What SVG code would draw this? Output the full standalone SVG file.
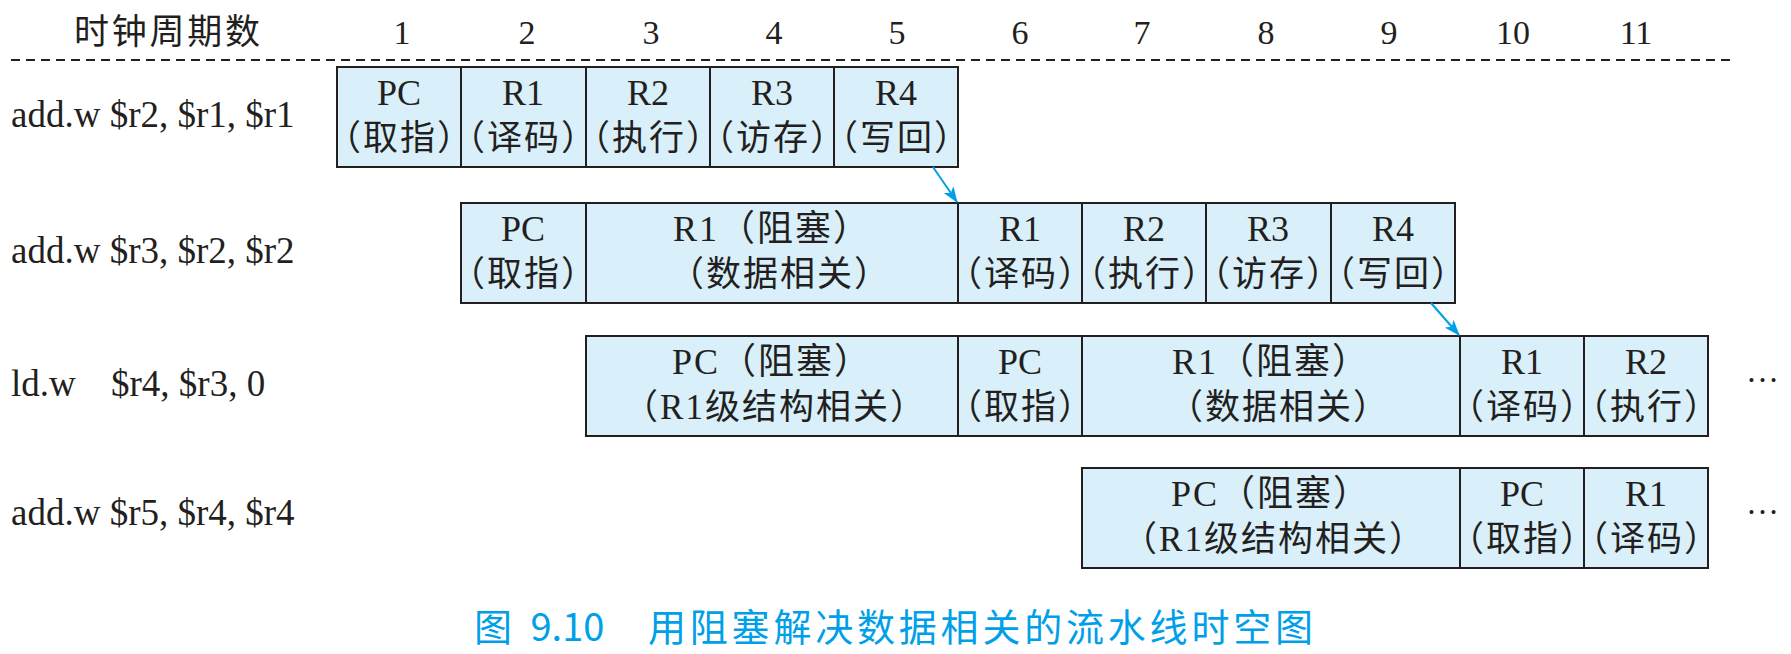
<svg xmlns="http://www.w3.org/2000/svg" width="1791" height="654" viewBox="0 0 1791 654">
<style>
  .cell { fill: #d9f0fa; stroke: #231f20; stroke-width: 2; }
  .t { font-family: "Liberation Serif", "Noto Sans CJK SC", serif; font-size: 36px; fill: #231f20; text-anchor: middle; }
  .cj { font-family: "Liberation Serif", "Noto Sans CJK SC", serif; font-size: 35px; fill: #231f20; text-anchor: middle; }
  .wide { letter-spacing: 2px; }
  .nar { font-feature-settings: "halt"; letter-spacing: 2px; }
  .lbl { font-family: "Liberation Serif", serif; font-size: 37px; fill: #231f20; }
  .num { font-family: "Liberation Serif", serif; font-size: 34px; fill: #231f20; text-anchor: middle; }
  .hdr { font-family: "Noto Sans CJK SC", sans-serif; font-size: 35px; fill: #231f20; }
  .cap { font-family: "Noto Sans CJK SC", sans-serif; font-size: 38px; fill: #00a0e9; }
  .dots { font-family: "Liberation Serif", serif; font-size: 33px; fill: #231f20; }
  .arr { stroke: #00a0e9; stroke-width: 2; fill: none; marker-end: url(#ah); }
</style>
<defs>
  <marker id="ah" markerWidth="16" markerHeight="12" refX="15" refY="6" orient="auto" markerUnits="userSpaceOnUse">
    <path d="M0,0 L16,6 L0,12 L4,6 z" fill="#00a0e9"/>
  </marker>
</defs>
<rect width="1791" height="654" fill="#ffffff"/>

<g id="header">
  <text class="hdr" x="74" y="44" textLength="186" lengthAdjust="spacing">时钟周期数</text>
  <text class="num" x="402" y="44">1</text>
  <text class="num" x="527" y="44">2</text>
  <text class="num" x="651" y="44">3</text>
  <text class="num" x="774" y="44">4</text>
  <text class="num" x="897" y="44">5</text>
  <text class="num" x="1020" y="44">6</text>
  <text class="num" x="1142" y="44">7</text>
  <text class="num" x="1266" y="44">8</text>
  <text class="num" x="1389" y="44">9</text>
  <text class="num" x="1513" y="44">10</text>
  <text class="num" x="1636" y="44">11</text>
  <line x1="11" y1="60" x2="1732" y2="60" stroke="#231f20" stroke-width="2" stroke-dasharray="9 6"/>
</g>

<g id="labels">
  <text class="lbl" x="11" y="127">add.w $r2, $r1, $r1</text>
  <text class="lbl" x="11" y="263">add.w $r3, $r2, $r2</text>
  <text class="lbl" x="11" y="396"><tspan x="11">ld.w</tspan><tspan x="111">$r4, $r3, 0</tspan></text>
  <text class="lbl" x="11" y="525">add.w $r5, $r4, $r4</text>
</g>

<g id="row1">
  <g id="r1c1"><rect class="cell" x="337" y="67" width="124" height="100"/><text class="t" x="399" y="105">PC</text><text class="cj nar" x="400" y="150">（取指）</text></g>
  <g id="r1c2"><rect class="cell" x="461" y="67" width="125" height="100"/><text class="t" x="523" y="105">R1</text><text class="cj nar" x="524" y="150">（译码）</text></g>
  <g id="r1c3"><rect class="cell" x="586" y="67" width="124" height="100"/><text class="t" x="648" y="105">R2</text><text class="cj nar" x="649" y="150">（执行）</text></g>
  <g id="r1c4"><rect class="cell" x="710" y="67" width="124" height="100"/><text class="t" x="772" y="105">R3</text><text class="cj nar" x="773" y="150">（访存）</text></g>
  <g id="r1c5"><rect class="cell" x="834" y="67" width="124" height="100"/><text class="t" x="896" y="105">R4</text><text class="cj nar" x="897" y="150">（写回）</text></g>
</g>

<g id="row2">
  <g id="r2c2"><rect class="cell" x="461" y="203" width="125" height="100"/><text class="t" x="523" y="241">PC</text><text class="cj nar" x="524" y="286">（取指）</text></g>
  <g id="r2c3"><rect class="cell" x="586" y="203" width="372" height="100"/><text class="t wide" x="772" y="241">R1（阻塞）</text><text class="cj wide" x="780" y="286">（数据相关）</text></g>
  <g id="r2c6"><rect class="cell" x="958" y="203" width="124" height="100"/><text class="t" x="1020" y="241">R1</text><text class="cj nar" x="1021" y="286">（译码）</text></g>
  <g id="r2c7"><rect class="cell" x="1082" y="203" width="124" height="100"/><text class="t" x="1144" y="241">R2</text><text class="cj nar" x="1145" y="286">（执行）</text></g>
  <g id="r2c8"><rect class="cell" x="1206" y="203" width="125" height="100"/><text class="t" x="1268" y="241">R3</text><text class="cj nar" x="1269" y="286">（访存）</text></g>
  <g id="r2c9"><rect class="cell" x="1331" y="203" width="124" height="100"/><text class="t" x="1393" y="241">R4</text><text class="cj nar" x="1394" y="286">（写回）</text></g>
</g>

<g id="row3">
  <g id="r3c3"><rect class="cell" x="586" y="336" width="372" height="100"/><text class="t wide" x="772" y="374">PC（阻塞）</text><text class="cj wide" x="775" y="419">（R1级结构相关）</text></g>
  <g id="r3c6"><rect class="cell" x="958" y="336" width="124" height="100"/><text class="t" x="1020" y="374">PC</text><text class="cj nar" x="1021" y="419">（取指）</text></g>
  <g id="r3c7"><rect class="cell" x="1082" y="336" width="378" height="100"/><text class="t wide" x="1271" y="374">R1（阻塞）</text><text class="cj wide" x="1279" y="419">（数据相关）</text></g>
  <g id="r3c10"><rect class="cell" x="1460" y="336" width="124" height="100"/><text class="t" x="1522" y="374">R1</text><text class="cj nar" x="1523" y="419">（译码）</text></g>
  <g id="r3c11"><rect class="cell" x="1584" y="336" width="124" height="100"/><text class="t" x="1646" y="374">R2</text><text class="cj nar" x="1647" y="419">（执行）</text></g>
  <text class="dots" x="1746" y="382">…</text>
</g>

<g id="row4">
  <g id="r4c7"><rect class="cell" x="1082" y="468" width="378" height="100"/><text class="t wide" x="1271" y="506">PC（阻塞）</text><text class="cj wide" x="1274" y="551">（R1级结构相关）</text></g>
  <g id="r4c10"><rect class="cell" x="1460" y="468" width="124" height="100"/><text class="t" x="1522" y="506">PC</text><text class="cj nar" x="1523" y="551">（取指）</text></g>
  <g id="r4c11"><rect class="cell" x="1584" y="468" width="124" height="100"/><text class="t" x="1646" y="506">R1</text><text class="cj nar" x="1647" y="551">（译码）</text></g>
  <text class="dots" x="1746" y="514">…</text>
</g>

<g id="connectors">
  <line class="arr" x1="933" y1="167" x2="957" y2="202"/>
  <line class="arr" x1="1431" y1="303" x2="1459" y2="335"/>
</g>

<g id="caption">
  <text class="cap" x="474" y="641" word-spacing="10">图 9.10</text>
  <text class="cap" x="648" y="641" textLength="665" lengthAdjust="spacing">用阻塞解决数据相关的流水线时空图</text>
</g>
</svg>
